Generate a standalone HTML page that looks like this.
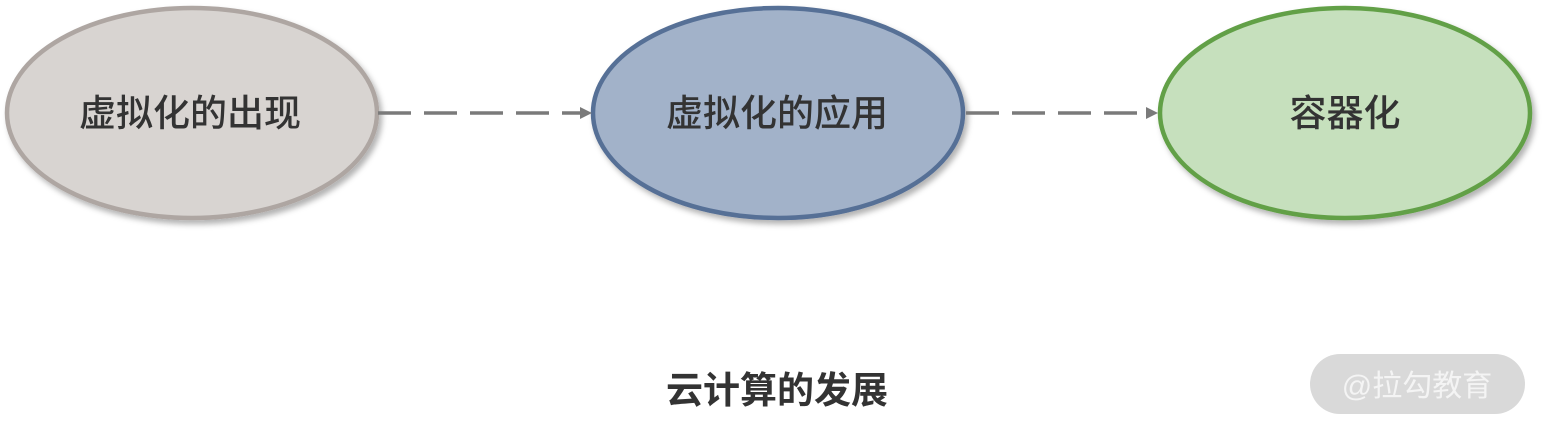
<!DOCTYPE html>
<html><head><meta charset="utf-8"><style>
body{margin:0;background:#fff;width:1547px;height:435px;overflow:hidden;position:relative}
svg{position:absolute;left:0;top:0}
</style></head><body>
<svg width="1547" height="435" xmlns="http://www.w3.org/2000/svg">
<defs><filter id="s" x="-10%" y="-10%" width="125%" height="130%"><feDropShadow dx="3" dy="4" stdDeviation="3" flood-color="#000" flood-opacity="0.3"/></filter></defs>
<ellipse cx="192" cy="113" rx="185" ry="105" fill="#d8d4d1" stroke="#aea6a2" stroke-width="4.5" filter="url(#s)"/>
<ellipse cx="778" cy="113" rx="185" ry="105" fill="#a2b2c9" stroke="#566f96" stroke-width="4.5" filter="url(#s)"/>
<ellipse cx="1345" cy="113" rx="185" ry="105" fill="#c6e0bd" stroke="#62a047" stroke-width="4.5" filter="url(#s)"/>
<line x1="378" y1="113" x2="582" y2="113" stroke="#7a7a7a" stroke-width="3.5" stroke-dasharray="33,13"/>
<polygon points="580,107 592,113 580,119" fill="#7a7a7a"/>
<line x1="966" y1="113" x2="1148" y2="113" stroke="#7a7a7a" stroke-width="3.5" stroke-dasharray="33,13"/>
<polygon points="1146,107 1158,113 1146,119" fill="#7a7a7a"/>
<g font-family="Liberation Sans, Noto Sans CJK SC, sans-serif" font-size="37" fill="#333" text-anchor="middle" font-weight="500">
<text x="190" y="126">虚拟化的出现</text>
<text x="777" y="126">虚拟化的应用</text>
<text x="1345" y="126">容器化</text>
<text x="777" y="403" font-weight="bold" font-size="37">云计算的发展</text>
</g>
<rect x="1310" y="354" width="215" height="60" rx="30" fill="#d9d9d9"/>
<text x="1417" y="396" font-family="Liberation Sans, Noto Sans CJK SC, sans-serif" font-size="30" fill="#f4f4f4" text-anchor="middle">@拉勾教育</text>
</svg>
</body></html>
